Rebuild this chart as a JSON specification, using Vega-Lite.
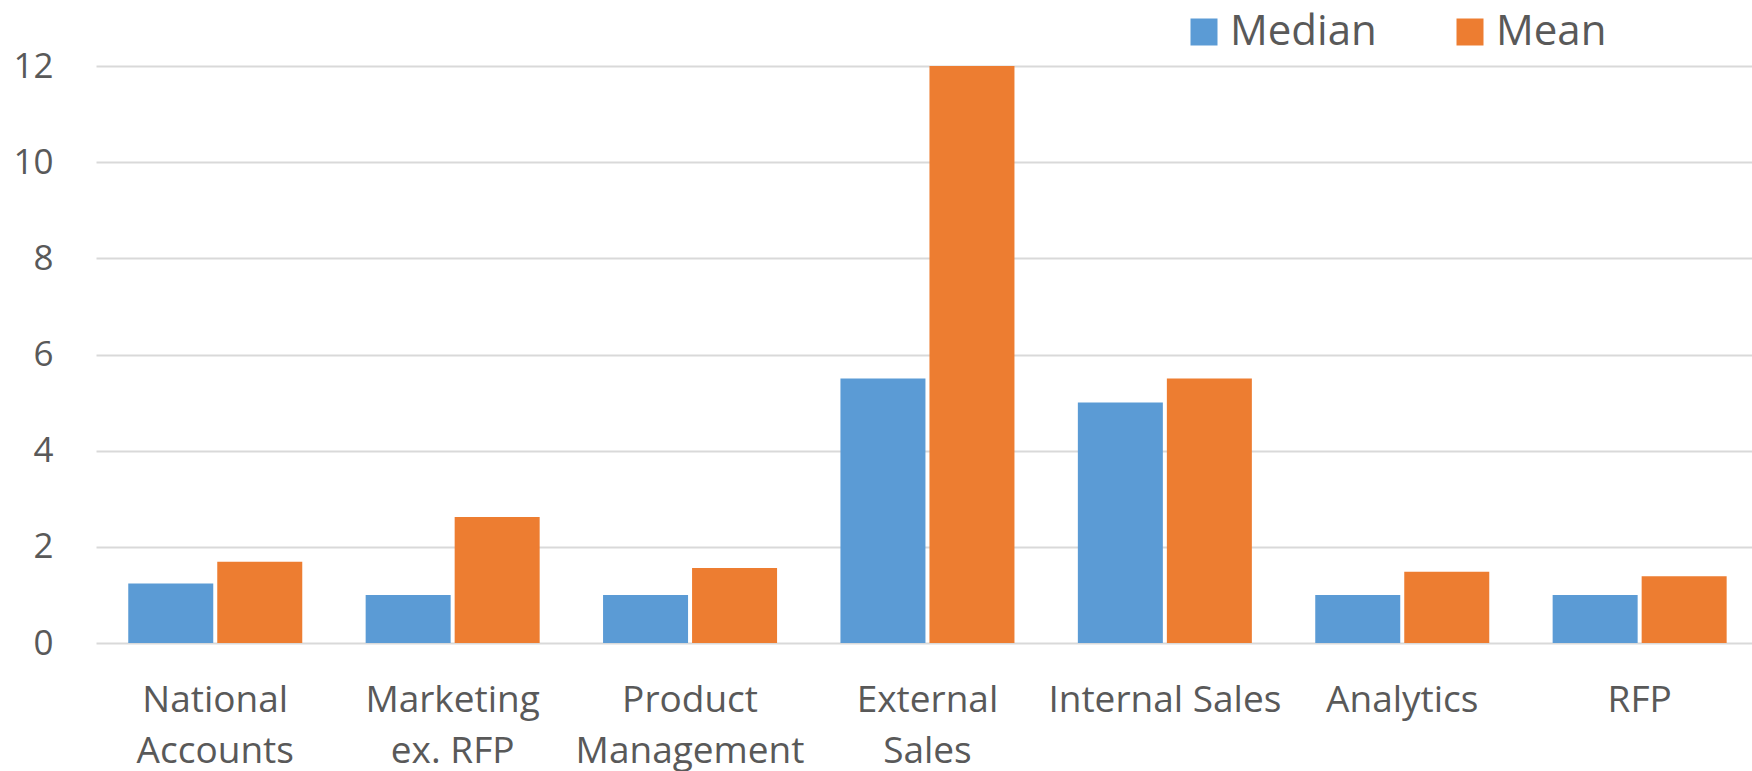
{
  "$schema": "https://vega.github.io/schema/vega-lite/v6.json",
  "autosize": {"type": "none"},
  "width": 1656,
  "height": 577,
  "padding": {"left": 96, "top": 66, "right": 0, "bottom": 128},
  "background": "white",
  "data": {
    "values": [
      {"category": "National Accounts", "series": "Median", "value": 1.24},
      {"category": "National Accounts", "series": "Mean", "value": 1.69},
      {"category": "Marketing ex. RFP", "series": "Median", "value": 1},
      {"category": "Marketing ex. RFP", "series": "Mean", "value": 2.62},
      {"category": "Product Management", "series": "Median", "value": 1},
      {"category": "Product Management", "series": "Mean", "value": 1.56},
      {"category": "External Sales", "series": "Median", "value": 5.5},
      {"category": "External Sales", "series": "Mean", "value": 12},
      {"category": "Internal Sales", "series": "Median", "value": 5},
      {"category": "Internal Sales", "series": "Mean", "value": 5.5},
      {"category": "Analytics", "series": "Median", "value": 1},
      {"category": "Analytics", "series": "Mean", "value": 1.48},
      {"category": "RFP", "series": "Median", "value": 1},
      {"category": "RFP", "series": "Mean", "value": 1.39}
    ]
  },
  "mark": {"type": "bar"},
  "encoding": {
    "x": {
      "field": "category",
      "type": "nominal",
      "sort": null,
      "title": null,
      "scale": {"paddingInner": 0.267, "paddingOuter": 0.1213, "align": 0.56},
      "axis": {
        "labelAngle": 0,
        "labelFont": "Open Sans",
        "labelFontSize": 37,
        "labelColor": "#595959",
        "labelLineHeight": 51,
        "labelPadding": 39,
        "labelBaseline": "top",
        "labelLimit": 0,
        "ticks": false,
        "domain": false,
        "grid": false,
        "labelExpr": "datum.value == 'National Accounts' ? ['National', 'Accounts'] : datum.value == 'Marketing ex. RFP' ? ['Marketing', 'ex. RFP'] : datum.value == 'Product Management' ? ['Product', 'Management'] : datum.value == 'External Sales' ? ['External', 'Sales'] : datum.value"
      }
    },
    "xOffset": {
      "field": "series",
      "type": "nominal",
      "sort": ["Median", "Mean"],
      "scale": {"paddingInner": 0.045, "paddingOuter": 0}
    },
    "y": {
      "field": "value",
      "type": "quantitative",
      "title": null,
      "scale": {"domain": [0, 12], "nice": false},
      "axis": {
        "values": [0, 2, 4, 6, 8, 10, 12],
        "labelFont": "Open Sans",
        "labelFontSize": 35,
        "labelColor": "#595959",
        "labelPadding": 43,
        "ticks": false,
        "domain": false,
        "gridColor": "#d9d9d9",
        "gridWidth": 2
      }
    },
    "color": {
      "field": "series",
      "type": "nominal",
      "sort": ["Median", "Mean"],
      "scale": {"domain": ["Median", "Mean"], "range": ["#5B9BD5", "#ED7D31"]},
      "legend": {
        "title": null,
        "orient": "none",
        "legendX": 1087,
        "legendY": -55,
        "direction": "horizontal",
        "symbolType": "square",
        "symbolSize": 729,
        "symbolStrokeWidth": 0,
        "labelFont": "Open Sans",
        "labelFontSize": 42,
        "labelColor": "#595959",
        "labelLimit": 0,
        "labelOffset": 5,
        "columnPadding": 72
      }
    }
  },
  "config": {
    "view": {"stroke": null}
  }
}
